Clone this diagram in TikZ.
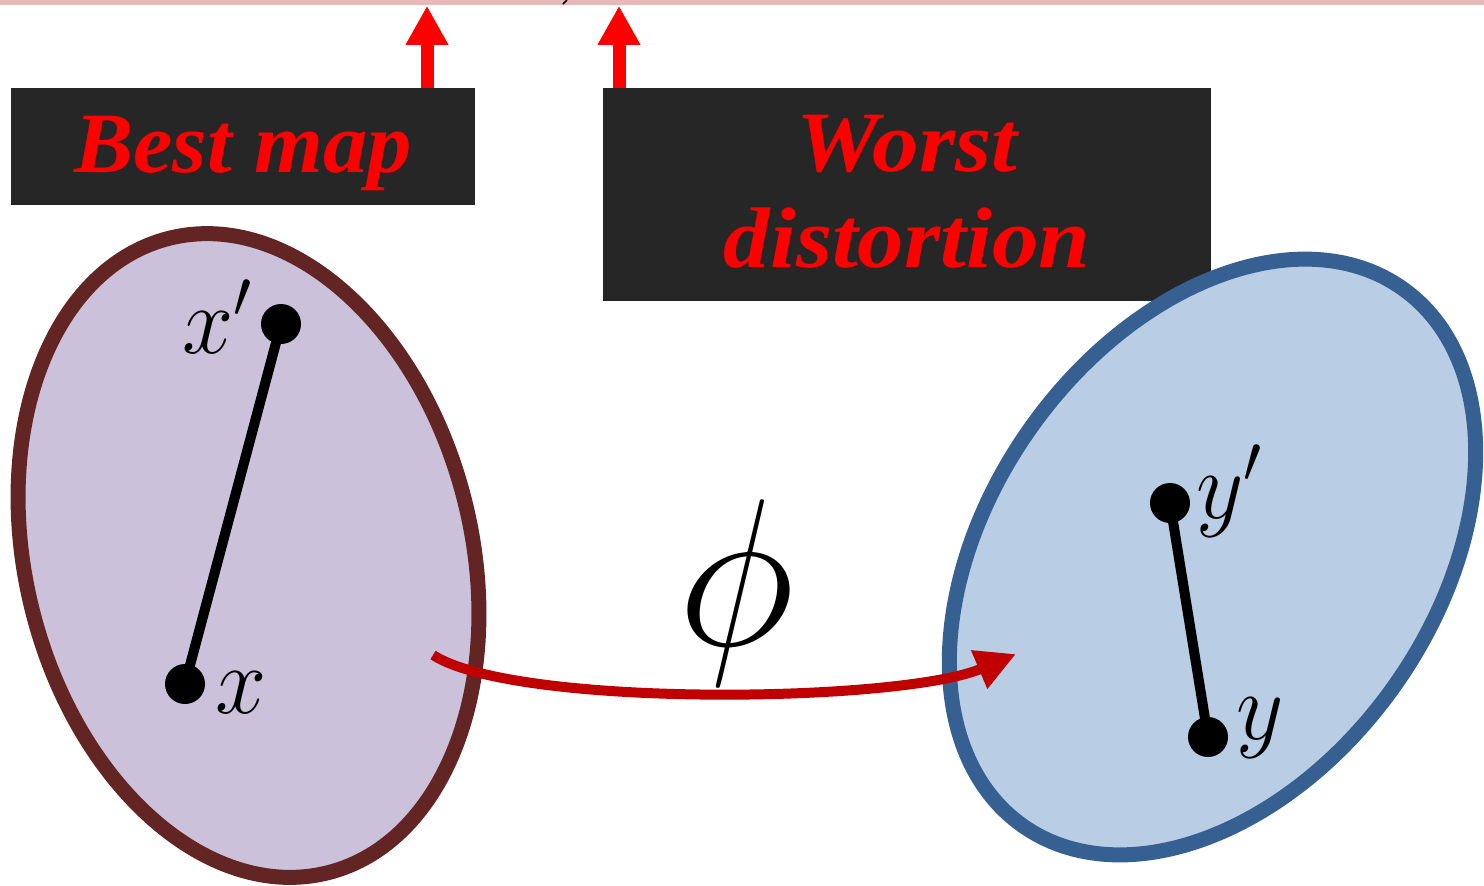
\RequirePackage{fix-cm}
\documentclass[tikz,border=0pt]{standalone}
\usepackage{fontspec}
\setmainfont{Liberation Serif}
\usetikzlibrary{arrows.meta,shapes.geometric}
\definecolor{bandpink}{HTML}{E6B9B8}
\definecolor{boxgray}{HTML}{262626}
\definecolor{leftfill}{HTML}{CCC1DA}
\definecolor{leftstroke}{HTML}{632523}
\definecolor{rightfill}{HTML}{B9CDE5}
\definecolor{rightstroke}{HTML}{376092}
\definecolor{mapred}{HTML}{C00000}
\begin{document}
\begin{tikzpicture}[x=0.5pt,y=0.5pt,
  blackbox/.style={fill=boxgray, inner sep=0, draw=none},
  boxtext/.style={text=red, font=\fontsize{43}{48}\selectfont\bfseries\itshape, inner sep=0},
  uparrow/.style={draw=red, line width=6.5pt, -{Triangle[length=19.5pt,width=20pt]}},
  blob/.style={ellipse, line width=7.5pt, inner sep=0},
  dot/.style={circle, fill=black, inner sep=0, minimum size=20pt},
  seg/.style={line width=5pt},
  mathlbl/.style={inner sep=0, font=\fontsize{46}{52}\selectfont},
  maparrow/.style={draw=mapred, line width=5pt, -{Triangle[length=20pt,width=19.5pt]}}
]
\useasboundingbox (0,0) rectangle (1484,-885);
% top band
\node[fill=bandpink, inner sep=0, minimum width=742pt, minimum height=2.5pt, anchor=north west] (band) at (0,0) {};
\draw[line width=0.8pt] (563,-4) -- (567,0);
% boxes
\node[blackbox, minimum width=232pt, minimum height=58.5pt] (box1) at (243,-146.5) {};
\node[boxtext, anchor=base] (t1) at (243,-172) {\scalebox{1.03}[1]{Best map}};
\node[blackbox, minimum width=304pt, minimum height=106.5pt] (box2) at (907,-194.5) {};
\node[boxtext, align=center] (t2) at (907,-191.5) {\scalebox{1.08}[1]{Worst}\\\scalebox{1.08}[1]{distortion}};
% up arrows
\coordinate (a1) at (427,0);
\coordinate (a2) at (619,0);
\draw[uparrow] (box1.north -| a1) -- (band.south -| a1);
\draw[uparrow] (box2.north -| a2) -- (band.south -| a2);
% blobs
\node[blob, draw=leftstroke, fill=leftfill, minimum width=223pt, minimum height=327pt, rotate=14] (A) at (248.5,-555.5) {};
\node[blob, draw=rightstroke, fill=rightfill, minimum width=223pt, minimum height=329pt, rotate=-35.3] (B) at (1212.5,-557) {};
% points
\node[dot] (xp) at (281,-324) {};
\node[dot] (x) at (185,-684) {};
\node[dot] (yp) at (1170,-503) {};
\node[dot] (y) at (1208,-737) {};
\draw[seg] (x.center) -- (xp.center);
\draw[seg] (y.center) -- (yp.center);
% labels
\node[mathlbl, anchor=base west] (lxp) at (182,-353) {\scalebox{1}[1.05]{$x'$}};
\node[mathlbl, anchor=base west] (lx) at (215,-713) {\scalebox{1}[1.05]{$x$}};
\node[mathlbl, anchor=base west] (lyp) at (1196,-518) {\scalebox{1}[1.05]{$y'$}};
\node[mathlbl, anchor=base west] (ly) at (1236,-739) {\scalebox{1}[1.05]{$y$}};
% map arrow
\coordinate (ps) at (433,-655);
\coordinate (pe) at (1016,-654);
\draw[maparrow] (ps) .. controls (515,-708) and (900,-703) .. (pe);
\node[inner sep=0, font=\fontsize{100}{110}\selectfont] (phi) at (736,-593) {\scalebox{1}[1.05]{$\phi$}};
\end{tikzpicture}
\end{document}
